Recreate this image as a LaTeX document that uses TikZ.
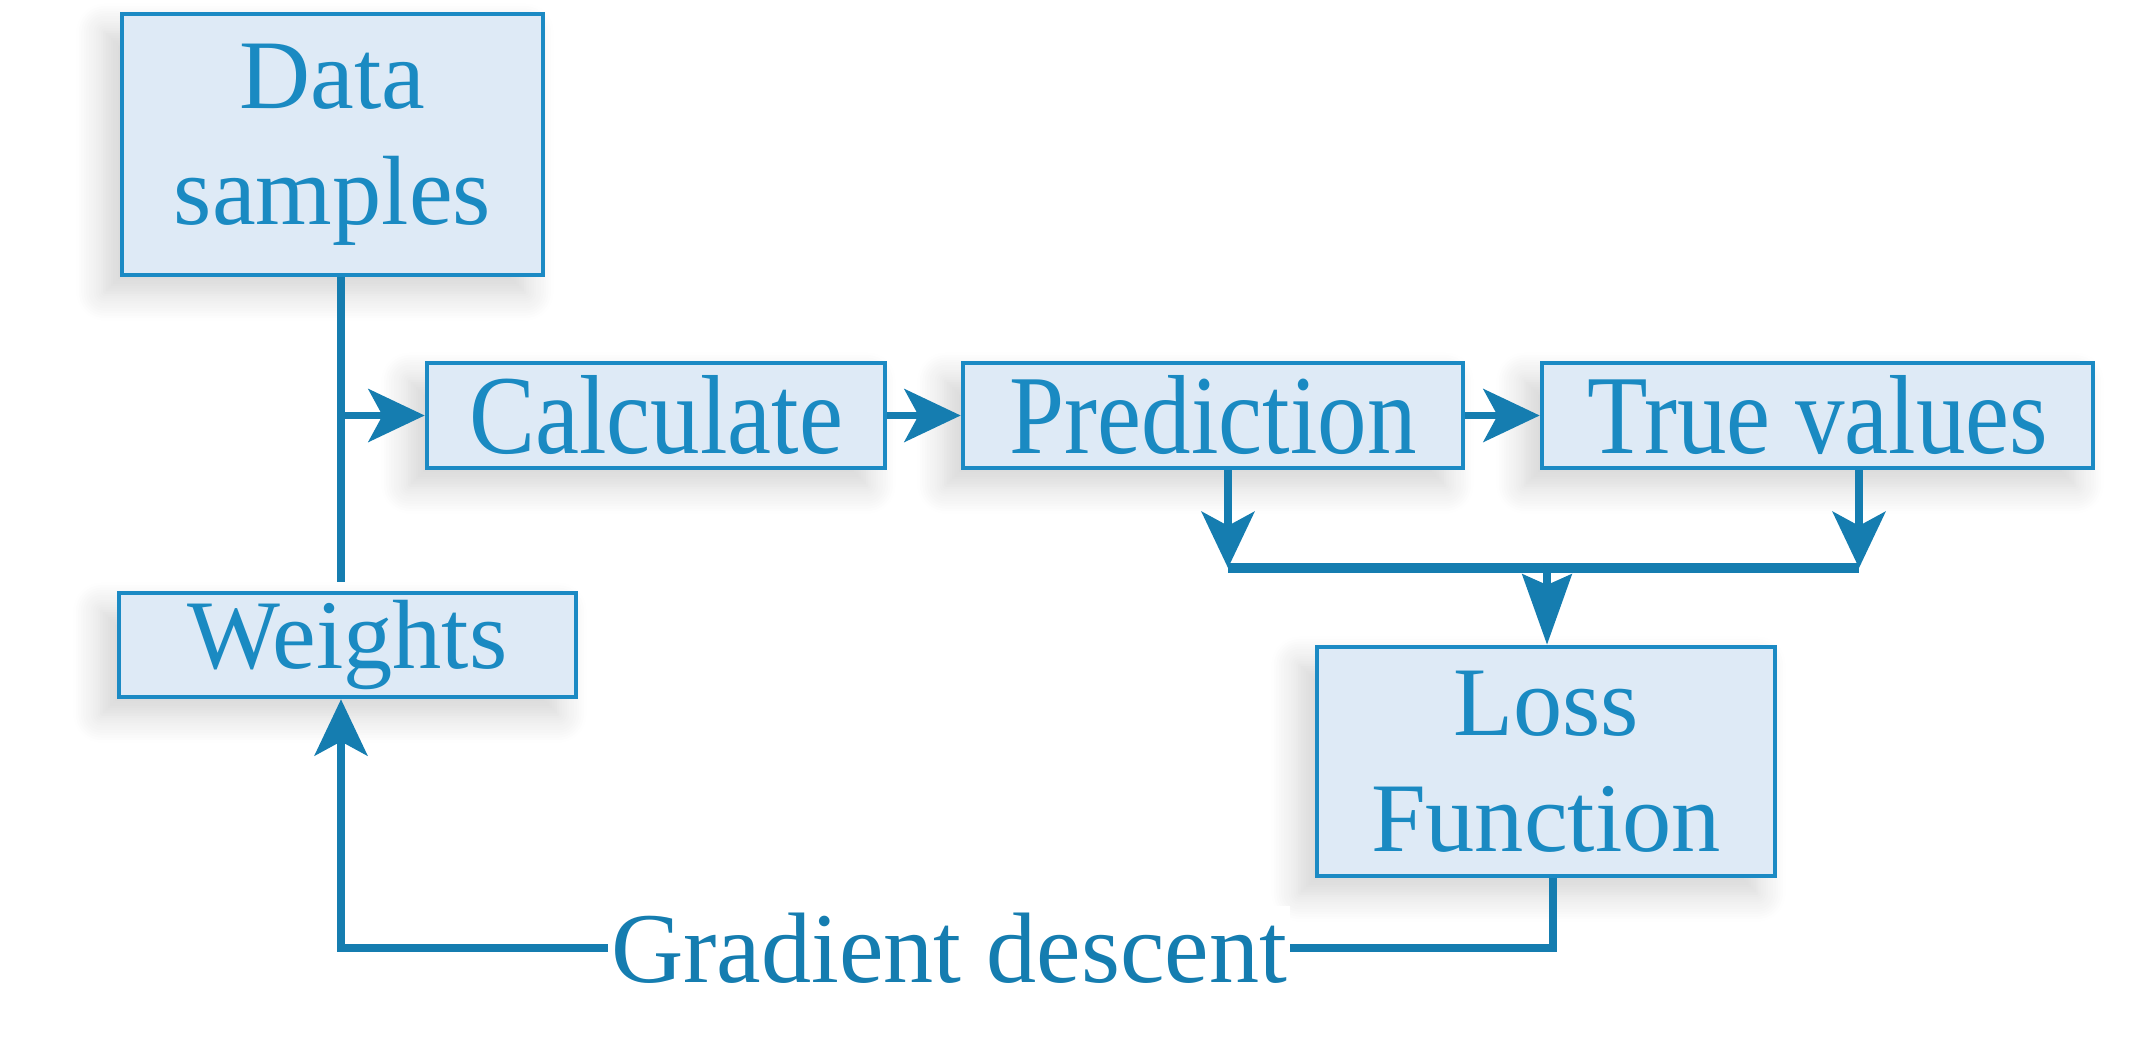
\documentclass[tikz,border=0pt]{standalone}
\usepackage{fontspec}
\setmainfont{Liberation Serif}
\usepackage{graphicx}
\usetikzlibrary{arrows.meta,shadows.blur,calc}
\definecolor{boxfill}{HTML}{DEEAF6}
\definecolor{boxline}{HTML}{1B8AC4}
\definecolor{txtcol}{HTML}{1A8AC2}
\definecolor{linecol}{HTML}{157DB0}
\newcommand{\sqz}[1]{\scalebox{0.88}[1]{#1}}
\tikzset{
  blockbox/.style={draw=boxline, fill=boxfill, line width=1.3pt, text=txtcol,
    align=center, inner sep=0pt, rectangle,
    blur shadow={shadow xshift=-5pt, shadow yshift=-5pt, shadow blur steps=12, shadow opacity=18, shadow blur radius=8pt},
    font=\fontsize{28}{33}\selectfont},
  bigfont/.style={font=\fontsize{32}{36}\selectfont},
  conn/.style={draw=linecol, line width=2.2pt},
  tip/.style={-{Stealth[length=16pt,width=15pt,inset=4pt]}},
}
\begin{document}
\begin{tikzpicture}
\useasboundingbox (0,0) rectangle (21.46,-10.54);
\node[blockbox, minimum width=4.21cm, minimum height=2.61cm] (data) at (3.325,-1.445) {Data\\samples};
\node[blockbox, bigfont, minimum width=4.58cm, minimum height=1.05cm] (calc) at (6.56,-4.155) {\sqz{Calculate}};
\node[blockbox, bigfont, minimum width=5.00cm, minimum height=1.05cm] (pred) at (12.13,-4.155) {\sqz{Prediction}};
\node[blockbox, bigfont, minimum width=5.51cm, minimum height=1.05cm] (truev) at (18.175,-4.155) {\sqz{True values}};
\node[blockbox, minimum width=4.57cm, minimum height=1.04cm] (weights) at (3.475,-6.45) {Weights};
\node[blockbox, minimum width=4.58cm, minimum height=2.29cm] (loss) at (15.46,-7.615) {Loss\\Function};

\coordinate (sx) at (3.41,0);
\coordinate (barL) at (12.28,-5.68);
\coordinate (barR) at (18.59,-5.68);
\coordinate (barM) at (15.47,-5.68);
\coordinate (fbR) at (15.53,-9.48);
\coordinate (fbL) at (3.41,-9.48);

% spine
\draw[conn] (data.south -| sx) -- ($(weights.north -| sx)+(0,0.09)$);
\draw[conn, tip] (sx |- calc.west) -- (calc.west);
\draw[conn, tip] (calc.east) -- (pred.west);
\draw[conn, tip] (pred.east) -- (truev.west);
% to bar
\draw[conn, tip] (barL |- pred.south) -- (barL);
\draw[conn, tip] (barR |- truev.south) -- (barR);
\draw[draw=linecol, line width=3pt] (barL) -- (barR);
\draw[conn, -{Stealth[length=20pt,width=14pt,inset=3pt]}] (barM) -- (barM |- loss.north);
% feedback
\draw[conn, tip] (fbR |- loss.south) -- (fbR) -- (fbL) -- (weights.south -| fbL);
\node[fill=white, text=linecol, inner xsep=1pt, inner ysep=2pt, font=\fontsize{28.5}{33}\selectfont] (gd) at (9.49,-9.48) {Gradient descent};
\end{tikzpicture}
\end{document}
